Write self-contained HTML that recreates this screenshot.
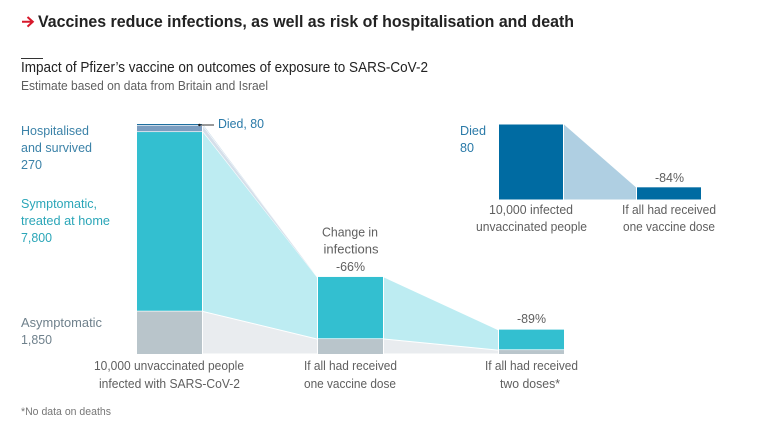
<!DOCTYPE html>
<html>
<head>
<meta charset="utf-8">
<style>
html,body{margin:0;padding:0;background:#fff;width:768px;height:428px;overflow:hidden}
svg{display:block}
text{font-family:"Liberation Sans",sans-serif;font-size:12.5px;fill:#5f5f5f}
.c{text-anchor:middle}
.hosp{fill:#3b82a8}
.symp{fill:#2ba6b8}
.asym{fill:#6f818c}
.died{fill:#2a7aa8}
</style>
</head>
<body>
<svg id="chart" width="768" height="428" viewBox="0 0 768 428" xmlns="http://www.w3.org/2000/svg">
  <rect width="768" height="428" fill="#fff"/>
  <path d="M22 21.800H32.500M27.500 17L32.800 21.800L27.500 26.600" fill="none" stroke="#d7192b" stroke-width="2"/>
  <text x="38" y="27" style="font-size:17px;font-weight:bold;fill:#222" textLength="536" lengthAdjust="spacingAndGlyphs">Vaccines reduce infections, as well as risk of hospitalisation and death</text>
  <rect x="21" y="58" width="22" height="1" fill="#333"/>
  <text x="21" y="72" style="font-size:14.5px;fill:#222" textLength="407" lengthAdjust="spacingAndGlyphs">Impact of Pfizer’s vaccine on outcomes of exposure to SARS-CoV-2</text>
  <text x="21" y="90" textLength="247" lengthAdjust="spacingAndGlyphs">Estimate based on data from Britain and Israel</text>

  <g id="main-marks"></g>
  <g id="inset-marks"></g>

  <g>
    <text class="hosp" x="21" y="135" textLength="68" lengthAdjust="spacingAndGlyphs">Hospitalised</text>
    <text class="hosp" x="21" y="152" textLength="71" lengthAdjust="spacingAndGlyphs">and survived</text>
    <text class="hosp" x="21" y="169" textLength="21" lengthAdjust="spacingAndGlyphs">270</text>
    <text class="symp" x="21" y="208" textLength="76" lengthAdjust="spacingAndGlyphs">Symptomatic,</text>
    <text class="symp" x="21" y="225" textLength="89" lengthAdjust="spacingAndGlyphs">treated at home</text>
    <text class="symp" x="21" y="242" textLength="31" lengthAdjust="spacingAndGlyphs">7,800</text>
    <text class="asym" x="21" y="327" textLength="81" lengthAdjust="spacingAndGlyphs">Asymptomatic</text>
    <text class="asym" x="21" y="344" textLength="31" lengthAdjust="spacingAndGlyphs">1,850</text>
    <text class="died" x="218" y="128" textLength="46" lengthAdjust="spacingAndGlyphs">Died, 80</text>
  </g>

  <g>
    <text class="c" x="350" y="236.500" textLength="56" lengthAdjust="spacingAndGlyphs">Change in</text>
    <text class="c" x="351" y="253.500" textLength="55" lengthAdjust="spacingAndGlyphs">infections</text>
    <text class="c" x="350.500" y="271" textLength="29" lengthAdjust="spacingAndGlyphs">-66%</text>
    <text class="c" x="531.500" y="323" textLength="29" lengthAdjust="spacingAndGlyphs">-89%</text>
    <text class="c" x="169" y="370" textLength="150" lengthAdjust="spacingAndGlyphs">10,000 unvaccinated people</text>
    <text class="c" x="169.500" y="388" textLength="141" lengthAdjust="spacingAndGlyphs">infected with SARS-CoV-2</text>
    <text class="c" x="350.500" y="370" textLength="93" lengthAdjust="spacingAndGlyphs">If all had received</text>
    <text class="c" x="350" y="388" textLength="92" lengthAdjust="spacingAndGlyphs">one vaccine dose</text>
    <text class="c" x="531.500" y="370" textLength="93" lengthAdjust="spacingAndGlyphs">If all had received</text>
    <text class="c" x="530" y="388" textLength="60" lengthAdjust="spacingAndGlyphs">two doses*</text>
  </g>

  <g>
    <text class="died" x="460" y="135" textLength="26" lengthAdjust="spacingAndGlyphs">Died</text>
    <text class="died" x="460" y="152" textLength="14" lengthAdjust="spacingAndGlyphs">80</text>
    <text class="c" x="669.500" y="182" textLength="29" lengthAdjust="spacingAndGlyphs">-84%</text>
    <text class="c" x="531" y="214" textLength="84" lengthAdjust="spacingAndGlyphs">10,000 infected</text>
    <text class="c" x="531.500" y="231" textLength="111" lengthAdjust="spacingAndGlyphs">unvaccinated people</text>
    <text class="c" x="669" y="214" textLength="94" lengthAdjust="spacingAndGlyphs">If all had received</text>
    <text class="c" x="669" y="231" textLength="92" lengthAdjust="spacingAndGlyphs">one vaccine dose</text>
  </g>

  <text x="21" y="415" style="font-size:11px;fill:#777" textLength="90" lengthAdjust="spacingAndGlyphs">*No data on deaths</text>
  <g>
    <rect x="198" y="124.500" width="16" height="1" fill="#333"/>
    <circle cx="199.500" cy="125" r="1.200" fill="#222"/>
  </g>
</svg>
<script>
// Main chart data: outcomes per 10,000 infections
const scenarios = ['unvaccinated', 'one-dose', 'two-doses'];
const asymptomatic = [1850, 650, 170];
const symptomatic = [7800, 2700, 890];
const hospitalised = [270, 0, 0];
const died = [80, 0, 0];
// Deaths inset data
const insetScenarios = ['unvaccinated', 'one-dose'];
const insetDeaths = [80, 13];

const NS = 'http://www.w3.org/2000/svg';
const mainGroup = document.getElementById('main-marks');
const insetGroup = document.getElementById('inset-marks');

function yMain(v) { return 354 - v * 0.023; }
function xMain(i) { return 137 + i * 181; }
function yInset(v) { return 199.5 - v * 75 / 80; }
function xInset(i) { return 499 + i * 138; }
const mainBarWidth = 65;
const insetBarWidth = 64;

function drawRect(parent, x, y0, y1, w, fill, name) {
  const r = document.createElementNS(NS, 'rect');
  r.setAttribute('x', x);
  r.setAttribute('y', Math.min(y0, y1));
  r.setAttribute('width', w);
  r.setAttribute('height', Math.abs(y1 - y0));
  r.setAttribute('fill', fill);
  
  
  parent.appendChild(r);
}
// Shrinks a band's edges slightly so a hairline of white separates stacked flows
function insetBand(top, bottom) {
  const pad = 0.5;
  if (bottom - top <= 2 * pad) {
    const mid = (top + bottom) / 2;
    return [mid, mid];
  }
  return [top + pad, bottom - pad];
}
function drawFlow(parent, x0, a0, b0, x1, a1, b1, fill, name) {
  const left = insetBand(a0, b0);
  const right = insetBand(a1, b1);
  const p = document.createElementNS(NS, 'polygon');
  p.setAttribute('points', [x0 + 1, left[0], x1 - 1, right[0], x1 - 1, right[1], x0 + 1, left[1]].join(' '));
  p.setAttribute('fill', fill);
  
  
  parent.appendChild(p);
}

const layers = [
  { key: 'asymptomatic', vals: asymptomatic, bar: '#b9c5cb', flow: '#e9ecef' },
  { key: 'symptomatic', vals: symptomatic, bar: '#33bfd0', flow: '#bdecf2' },
  { key: 'hospitalised', vals: hospitalised, bar: '#7b9dc0', flow: '#d5dfea' },
  { key: 'died', vals: died, bar: '#1f6f9f', flow: '#c4d8e6' }
];

// Flows first, then bars above them
for (let i = 0; i < scenarios.length - 1; i++) {
  let base0 = 0, base1 = 0;
  layers.forEach(function (layer) {
    const top0 = base0 + layer.vals[i];
    const top1 = base1 + layer.vals[i + 1];
    if (layer.vals[i] > 0 || layer.vals[i + 1] > 0) {
      drawFlow(mainGroup, xMain(i) + mainBarWidth, yMain(top0), yMain(base0),
        xMain(i + 1), yMain(top1), yMain(base1), layer.flow,
        'flow-' + layer.key + '-' + scenarios[i]);
    }
    base0 = top0;
    base1 = top1;
  });
}
scenarios.forEach(function (s, i) {
  let base = 0;
  layers.forEach(function (layer) {
    const v = layer.vals[i];
    if (v > 0) {
      const gap = base > 0 ? 0.7 : 0;
      drawRect(mainGroup, xMain(i), yMain(base) - gap, yMain(base + v), mainBarWidth, layer.bar,
        'bar-' + layer.key + '-' + s);
    }
    base += v;
  });
});

// Deaths inset
drawFlow(insetGroup, xInset(0) + insetBarWidth, yInset(insetDeaths[0]) - 0.5, yInset(0) + 0.5,
  xInset(1), yInset(insetDeaths[1]) - 0.5, yInset(0) + 0.5, '#afcfe2', 'flow-deaths');
insetScenarios.forEach(function (s, i) {
  drawRect(insetGroup, xInset(i), yInset(0), yInset(insetDeaths[i]), insetBarWidth, '#006ba2',
    'bar-deaths-' + s);
});
</script>
</body>
</html>
